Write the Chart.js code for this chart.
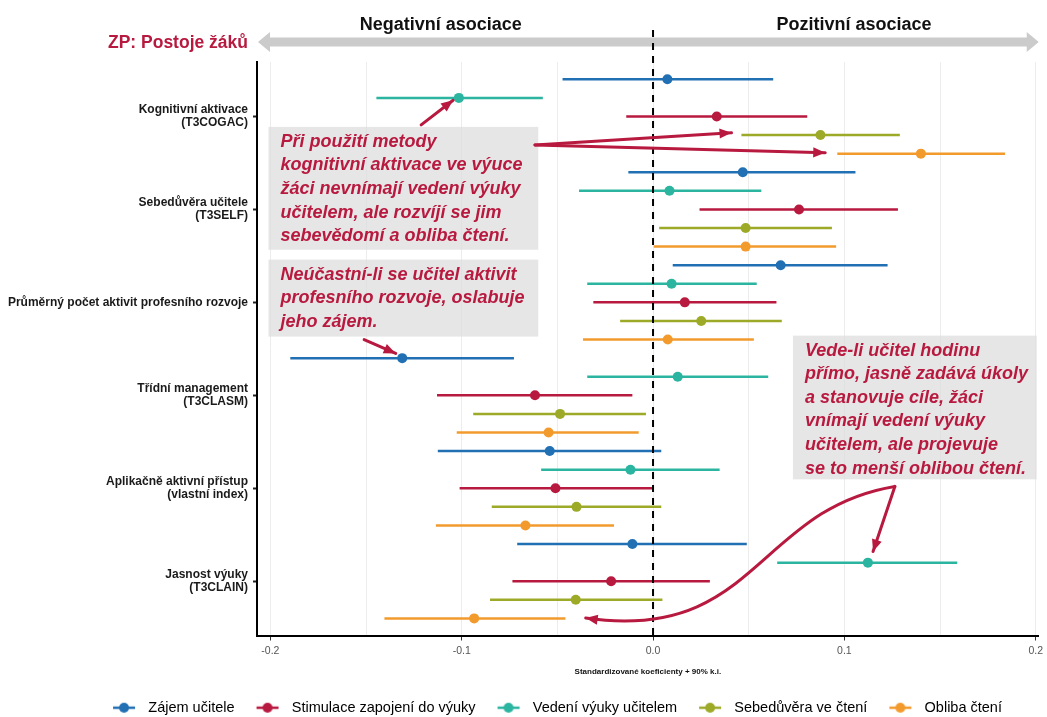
<!DOCTYPE html>
<html lang="cs">
<head>
<meta charset="utf-8">
<script src="https://cdn.jsdelivr.net/npm/chart.js@4.4.0/dist/chart.umd.min.js"></script>
<style>
  html, body { margin: 0; padding: 0; background: #fff; }
  #wrap { width: 1047px; height: 717px; }
</style>
</head>
<body>
<div id="wrap"><canvas id="chart"></canvas></div>
<script>
// skupiny prediktoru (shora dolu)
const groupLabels = [
    ['Kognitivní aktivace', '(T3COGAC)'],
    ['Sebedůvěra učitele', '(T3SELF)'],
    ['Průměrný počet aktivit profesního rozvoje'],
    ['Třídní management', '(T3CLASM)'],
    ['Aplikačně aktivní přístup', '(vlastní index)'],
    ['Jasnost výuky', '(T3CLAIN)']
];

// zavisle promenne (poradi v legende)
const seriesNames = ['Zájem učitele', 'Stimulace zapojení do výuky', 'Vedení výuky učitelem', 'Sebedůvěra ve čtení', 'Obliba čtení'];
const seriesColors = ['#2270b4', '#b8193f', '#2bb5a0', '#9daa28', '#f29b2c'];
// poradi radku uvnitr skupiny
const rowInGroup = [0, 2, 1, 3, 4];

// odhady + 90% intervaly
const zajemEst = [0.0075, 0.0469, 0.0667, -0.1311, -0.054, -0.0108];
const zajemLo = [-0.0473, -0.0129, 0.0103, -0.1896, -0.1125, -0.071];
const zajemHi = [0.0628, 0.1058, 0.1226, -0.0727, 0.0043, 0.049];

const stimulaceEst = [0.0333, 0.0763, 0.0166, -0.0617, -0.051, -0.0219];
const stimulaceLo = [-0.014, 0.0243, -0.0312, -0.1129, -0.1011, -0.0735];
const stimulaceHi = [0.0806, 0.128, 0.0645, -0.0108, -0.0004, 0.0297];

const vedeniEst = [-0.1015, 0.0086, 0.0097, 0.0129, -0.0118, 0.1123];
const vedeniLo = [-0.1446, -0.0387, -0.0344, -0.0344, -0.0585, 0.0649];
const vedeniHi = [-0.0576, 0.0566, 0.0542, 0.0602, 0.0348, 0.159];

const sebeduveraEst = [0.0875, 0.0484, 0.0252, -0.0486, -0.04, -0.0404];
const sebeduveraLo = [0.0462, 0.0032, -0.0172, -0.094, -0.0843, -0.0852];
const sebeduveraHi = [0.129, 0.0935, 0.0673, -0.0037, 0.0043, 0.0049];

const oblibaEst = [0.14, 0.0484, 0.0077, -0.0546, -0.0667, -0.0935];
const oblibaLo = [0.0963, 0.0004, -0.0366, -0.1026, -0.1135, -0.1404];
const oblibaHi = [0.184, 0.0957, 0.0527, -0.0075, -0.0204, -0.0458];

const xTicks = [-0.2, -0.15, -0.1, -0.05, 0, 0.05, 0.1, 0.15, 0.2];

const allEst = [zajemEst, stimulaceEst, vedeniEst, sebeduveraEst, oblibaEst];
const allLo = [zajemLo, stimulaceLo, vedeniLo, sebeduveraLo, oblibaLo];
const allHi = [zajemHi, stimulaceHi, vedeniHi, sebeduveraHi, oblibaHi];

// komentare v grafu (x = koeficient, y = radek)
const notes = [
    { x0: -0.201, x1: -0.060, y0: 2.56, y1: 9.17, lines: ['Při použití metody', 'kognitivní aktivace ve výuce', 'žáci nevnímají vedení výuky', 'učitelem, ale rozvíjí se jim', 'sebevědomí a obliba čtení.'] },
    { x0: -0.201, x1: -0.060, y0: 9.70, y1: 13.84, lines: ['Neúčastní-li se učitel aktivit', 'profesního rozvoje, oslabuje', 'jeho zájem.'] },
    { x0: 0.0731, x1: 0.2005, y0: 13.79, y1: 21.52, lines: ['Vede-li učitel hodinu', 'přímo, jasně zadává úkoly', 'a stanovuje cíle, žáci', 'vnímají vedení výuky', 'učitelem, ale projevuje', 'se to menší oblibou čtení.'] }
];
const arrows = [
    [[-0.1212, 2.45], [-0.1045, 1.13]],
    [[-0.0617, 3.53], [0.041, 2.88]],
    [[-0.0617, 3.53], [0.090, 3.95]],
    [[-0.151, 14.0], [-0.1345, 14.75]],
    [[0.1264, 21.9], [0.115, 25.4]],
    [[0.1264, 21.9], [0.0539, 23.13], [0.0539, 30.3], [-0.0352, 28.98]]
];

const datasets = [];
// body
allEst.forEach((est, s) => {
    datasets.push({
        label: seriesNames[s],
        data: est.map((v, g) => ({ x: v, y: g * 5 + rowInGroup[s] })),
        backgroundColor: seriesColors[s],
        borderColor: seriesColors[s],
        pointRadius: 5,
        borderWidth: 0
    });
});
// intervaly
allLo.forEach((lo, s) => {
    lo.forEach((v, g) => {
        const row = g * 5 + rowInGroup[s];
        datasets.push({
            label: seriesNames[s] + ' ki',
            data: [{ x: v, y: row }, { x: allHi[s][g], y: row }],
            showLine: true,
            borderColor: seriesColors[s],
            borderWidth: 2.5,
            pointRadius: 0
        });
    });
});

function legendMarker(color) {
    const c = document.createElement('canvas');
    c.width = 24; c.height = 12;
    const g = c.getContext('2d');
    g.strokeStyle = color;
    g.lineWidth = 2.5;
    g.beginPath(); g.moveTo(1, 6); g.lineTo(23, 6); g.stroke();
    g.fillStyle = color;
    g.beginPath(); g.arc(12, 6, 5, 0, Math.PI * 2); g.fill();
    return c;
}

function drawArrow(ctx, pts, head) {
    ctx.beginPath();
    ctx.moveTo(pts[0][0], pts[0][1]);
    if (pts.length === 4) {
        ctx.bezierCurveTo(pts[1][0], pts[1][1], pts[2][0], pts[2][1], pts[3][0], pts[3][1]);
    } else {
        ctx.lineTo(pts[1][0], pts[1][1]);
    }
    ctx.stroke();
    const a = pts[pts.length - 1], b = pts[pts.length - 2];
    const ang = Math.atan2(a[1] - b[1], a[0] - b[0]);
    ctx.beginPath();
    ctx.moveTo(a[0], a[1]);
    ctx.lineTo(a[0] - head * Math.cos(ang - 0.4), a[1] - head * Math.sin(ang - 0.4));
    ctx.lineTo(a[0] - head * Math.cos(ang + 0.4), a[1] - head * Math.sin(ang + 0.4));
    ctx.closePath();
    ctx.fill();
}

const decorPlugin = {
    id: 'decor',
    afterLayout(chart) {
        // legenda je v predloze posunuta doprava a niz
        const lg = chart.legend;
        lg.left += 33; lg.right += 33;
        lg.top += 4; lg.bottom += 4;
    },
    beforeDatasetsDraw(chart) {
        const { ctx, scales: { x, y } } = chart;
        ctx.save();
        notes.forEach(n => {
            const l = x.getPixelForValue(n.x0), r = x.getPixelForValue(n.x1);
            const t = y.getPixelForValue(n.y0), b = y.getPixelForValue(n.y1);
            ctx.fillStyle = 'rgba(222,222,222,0.75)';
            ctx.fillRect(l, t, r - l, b - t);
        });
        ctx.restore();
    },
    afterDatasetsDraw(chart) {
        const { ctx, chartArea, scales: { x, y } } = chart;
        ctx.save();
        // horni sipka
        const ay = 42, left = chartArea.left + 1, right = chartArea.right;
        ctx.fillStyle = '#cbcbcb';
        ctx.beginPath();
        ctx.moveTo(left, ay);
        ctx.lineTo(left + 12, ay - 10);
        ctx.lineTo(left + 12, ay - 4.5);
        ctx.lineTo(right - 12, ay - 4.5);
        ctx.lineTo(right - 12, ay - 10);
        ctx.lineTo(right, ay);
        ctx.lineTo(right - 12, ay + 10);
        ctx.lineTo(right - 12, ay + 4.5);
        ctx.lineTo(left + 12, ay + 4.5);
        ctx.lineTo(left + 12, ay + 10);
        ctx.closePath();
        ctx.fill();

        ctx.fillStyle = '#111';
        ctx.font = 'bold 18px "Liberation Sans", Arial, sans-serif';
        ctx.textAlign = 'center';
        ctx.textBaseline = 'middle';
        ctx.fillText('Negativní asociace', x.getPixelForValue(-0.111), 25);
        ctx.fillText('Pozitivní asociace', x.getPixelForValue(0.105), 25);
        ctx.fillStyle = '#b8193f';
        ctx.font = 'bold 17.5px "Liberation Sans", Arial, sans-serif';
        ctx.textAlign = 'right';
        ctx.fillText('ZP: Postoje žáků', chartArea.left - 9, 43);

        // nulova cara
        const zx = x.getPixelForValue(0);
        ctx.strokeStyle = '#000';
        ctx.lineWidth = 2;
        ctx.setLineDash([7, 6]);
        ctx.beginPath();
        ctx.moveTo(zx, 30);
        ctx.lineTo(zx, chartArea.bottom);
        ctx.stroke();
        ctx.setLineDash([]);

        // komentare
        ctx.font = 'italic bold 18px "Liberation Sans", Arial, sans-serif';
        ctx.textAlign = 'left';
        ctx.textBaseline = 'middle';
        ctx.fillStyle = '#b8193f';
        notes.forEach(n => {
            const l = x.getPixelForValue(n.x0), t = y.getPixelForValue(n.y0);
            n.lines.forEach((line, i) => ctx.fillText(line, l + 12, t + 15 + i * 23.6));
        });

        // sipky
        ctx.strokeStyle = '#b8193f';
        ctx.fillStyle = '#b8193f';
        ctx.lineWidth = 3;
        ctx.lineCap = 'round';
        arrows.forEach(a => {
            drawArrow(ctx, a.map(p => [x.getPixelForValue(p[0]), y.getPixelForValue(p[1])]), 13);
        });
        ctx.restore();
    }
};

Chart.defaults.font.family = '"Liberation Sans", Arial, sans-serif';

new Chart(document.getElementById('chart'), {
    type: 'scatter',
    data: { datasets: datasets },
    plugins: [decorPlugin],
    options: {
        responsive: true,
        maintainAspectRatio: false,
        animation: false,
        layout: { padding: { top: 62, right: 4, left: 0, bottom: -4 } },
        scales: {
            x: {
                type: 'linear',
                min: -0.207,
                max: 0.2016,
                afterBuildTicks: scale => { scale.ticks = xTicks.map(v => ({ value: v })); },
                afterFit: scale => { scale.height = 45; },
                grid: {
                    color: '#ececec',
                    lineWidth: 1,
                    tickLength: 5,
                    tickColor: ctx => Math.abs(Math.round(ctx.tick.value * 10) - ctx.tick.value * 10) < 1e-6 ? '#333' : 'rgba(0,0,0,0)'
                },
                border: { color: '#000', width: 2 },
                ticks: {
                    color: '#555',
                    font: { size: 10.5 },
                    padding: 4,
                    callback: v => Math.abs(Math.round(v * 10) - v * 10) < 1e-6 ? v.toFixed(1) : ''
                },
                title: {
                    display: true,
                    text: 'Standardizované koeficienty + 90% k.i.',
                    color: '#111',
                    font: { size: 8, weight: 'bold' },
                    padding: { top: 1 }
                }
            },
            y: {
                type: 'linear',
                reverse: true,
                min: -0.93,
                max: 29.92,
                afterBuildTicks: scale => { scale.ticks = groupLabels.map((l, g) => ({ value: g * 5 + 2 })); },
                afterFit: scale => { scale.width = 257; },
                grid: {
                    drawOnChartArea: false,
                    tickLength: 4,
                    tickColor: '#222',
                    tickWidth: 2
                },
                border: { color: '#000', width: 2 },
                ticks: {
                    color: '#1a1a1a',
                    font: { size: 12, weight: 'bold', lineHeight: 1.1 },
                    padding: 5,
                    callback: v => groupLabels[(v - 2) / 5]
                }
            }
        },
        plugins: {
            tooltip: { enabled: false },
            legend: {
                position: 'bottom',
                labels: {
                    usePointStyle: true,
                    pointStyleWidth: 34,
                    padding: 16,
                    color: '#222',
                    font: { size: 14.5 },
                    generateLabels: () => seriesNames.map((name, s) => ({
                        text: name,
                        pointStyle: legendMarker(seriesColors[s]),
                        fillStyle: seriesColors[s],
                        strokeStyle: seriesColors[s],
                        lineWidth: 0,
                        hidden: false,
                        datasetIndex: s
                    }))
                }
            }
        }
    }
});
</script>
</body>
</html>
